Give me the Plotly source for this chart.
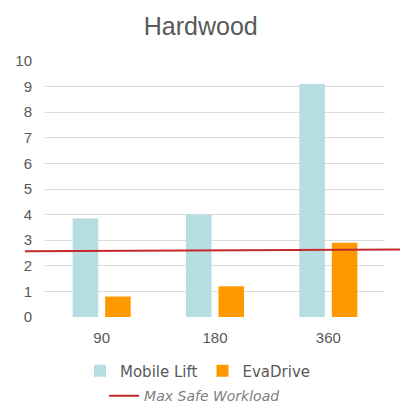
import plotly.graph_objects as go

# Rotation speed categories and measured workload per device
categories = ["90", "180", "360"]
mobile_lift = [3.85, 4.0, 9.1]
eva_drive = [0.8, 1.2, 2.9]

# Max safe workload reference line (value at left and right end)
max_safe_workload = [2.57, 2.64]

y_ticks = list(range(0, 11))

TEAL = "#B6DDE1"
ORANGE = "#FF9900"
RED = "#C42A2A"
GRID = "#DCDCDC"
TEXT = "#595959"

fig = go.Figure()
fig.add_trace(go.Bar(
    x=categories, y=mobile_lift, name="Mobile Lift",
    marker=dict(color=TEAL, line=dict(width=0)),
    legend="legend",
))
fig.add_trace(go.Bar(
    x=categories, y=eva_drive, name="EvaDrive",
    marker=dict(color=ORANGE, line=dict(width=0)),
    legend="legend",
))

# Reference line spanning past the plot area, shown in its own legend row
fig.add_shape(
    type="line", xref="paper", yref="y",
    x0=-0.059, x1=1.05,
    y0=max_safe_workload[0], y1=max_safe_workload[1],
    line=dict(color=RED, width=2),
    name="Max Safe Workload", showlegend=True, legend="legend2",
)

fig.update_layout(
    width=400, height=406,
    margin=dict(l=45, r=15, t=61, b=89, autoexpand=False),
    paper_bgcolor="white", plot_bgcolor="white",
    barmode="group", bargap=0.426, bargroupgap=0.215,
    title=dict(
        text="Hardwood", x=0.502, xanchor="center", xref="container",
        y=0.936, yanchor="middle",
        font=dict(family="Liberation Sans", size=25, color=TEXT),
    ),
    xaxis=dict(
        type="category", showgrid=False, zeroline=False, showline=False,
        ticks="", ticklabelstandoff=10,
        tickfont=dict(family="Liberation Sans", size=15, color=TEXT),
    ),
    yaxis=dict(
        range=[0, 10], tickvals=y_ticks, showgrid=True, gridcolor=GRID,
        gridwidth=1, zeroline=False, showline=False, ticks="",
        ticklabelstandoff=12,
        tickfont=dict(family="Liberation Sans", size=15, color=TEXT),
    ),
    legend=dict(
        orientation="h", x=0.45, xanchor="center",
        yref="container", y=0.086, yanchor="middle",
        itemwidth=30, font=dict(family="DejaVu Sans", size=15, color=TEXT),
        bgcolor="rgba(0,0,0,0)",
    ),
    legend2=dict(
        orientation="h", x=0.44, xanchor="center",
        yref="container", y=0.024, yanchor="middle",
        itemwidth=30, borderwidth=0,
        font=dict(family="DejaVu Sans", size=14, color="#7F7F7F", style="italic"),
        bgcolor="rgba(0,0,0,0)",
    ),
)

fig.write_html("out.html")
